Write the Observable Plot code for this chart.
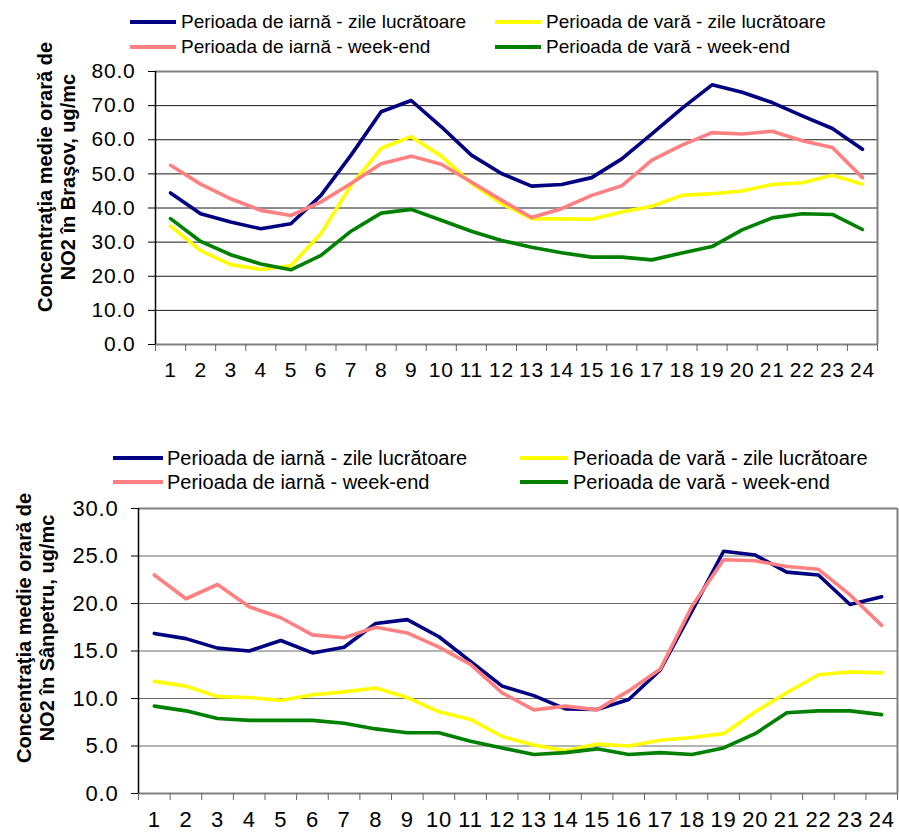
<!DOCTYPE html>
<html><head><meta charset="utf-8">
<script src="https://cdn.jsdelivr.net/npm/d3@7"></script>
<script src="https://cdn.jsdelivr.net/npm/@observablehq/plot@0.6"></script>
<style>
body{margin:0;background:#fff;font-family:"Liberation Sans",Arial,sans-serif;}
#wrap{position:relative;width:899px;height:832px;overflow:hidden;background:#fff;}
.chart{position:absolute;left:0;}
.leg{position:absolute;white-space:nowrap;color:#000;}
.sw{position:absolute;height:4px;}
.ytitle{position:absolute;width:360px;text-align:center;font-weight:bold;font-size:20px;line-height:23px;color:#000;transform:translate(-50%,-50%) rotate(-90deg);white-space:nowrap;}
</style></head><body><div id="wrap"></div>
<script>
// ---- data ----
const hours = [1,2,3,4,5,6,7,8,9,10,11,12,13,14,15,16,17,18,19,20,21,22,23,24];
const seriesNames = [
  "Perioada de iarnă - zile lucrătoare",
  "Perioada de vară - zile lucrătoare",
  "Perioada de iarnă - week-end",
  "Perioada de vară - week-end"
];
const seriesColors = ["#000080", "#FFFF00", "#FF8080", "#008000"];

// Braşov
const brasovWinterWork = [44.4,38.3,35.9,33.9,35.4,43.7,55.5,68.2,71.5,63.8,55.5,50.1,46.4,46.9,48.9,54.4,61.7,69.2,76.1,73.9,70.9,67.0,63.3,57.2];
const brasovSummerWork = [34.7,27.5,23.4,22.0,23.1,32.5,46.6,57.5,60.9,55.2,47.2,41.3,36.9,36.8,36.7,38.8,40.5,43.7,44.2,45.0,46.9,47.4,49.6,47.0];
const brasovWinterWeekend = [52.5,47.0,42.7,39.3,37.8,41.8,47.2,53.0,55.2,52.8,47.6,42.3,37.2,39.8,43.7,46.5,54.0,58.4,62.1,61.7,62.5,59.7,57.7,48.9];
const brasovSummerWeekend = [36.9,30.2,26.3,23.6,21.9,26.1,33.2,38.5,39.6,36.4,33.2,30.5,28.5,26.9,25.6,25.6,24.8,26.8,28.7,33.6,37.1,38.3,38.1,33.7];

// Sânpetru
const sanpetruWinterWork = [16.85,16.3,15.3,15.0,16.1,14.8,15.4,17.9,18.3,16.5,13.9,11.3,10.3,8.9,8.85,9.9,13.0,19.2,25.5,25.1,23.3,23.0,19.9,20.7];
const sanpetruSummerWork = [11.8,11.3,10.2,10.1,9.8,10.4,10.7,11.1,10.1,8.6,7.8,6.0,5.1,4.5,5.2,5.0,5.6,5.9,6.3,8.6,10.6,12.5,12.8,12.7];
const sanpetruWinterWeekend = [23.0,20.5,22.0,19.65,18.5,16.7,16.4,17.5,16.9,15.4,13.6,10.6,8.8,9.2,8.8,10.8,13.1,19.7,24.6,24.5,23.9,23.6,20.9,17.7];
const sanpetruSummerWeekend = [9.2,8.7,7.9,7.7,7.7,7.7,7.4,6.8,6.4,6.4,5.5,4.8,4.1,4.3,4.7,4.1,4.3,4.1,4.8,6.3,8.5,8.7,8.7,8.3];

const brasovTicks = [0,10,20,30,40,50,60,70,80];
const sanpetruTicks = [0,5,10,15,20,25,30];
const titleLine1 = "Concentraţia medie orară de";
const brasovTitle2 = "NO2 în Braşov, ug/mc";
const sanpetruTitle2 = "NO2 în Sânpetru, ug/mc";

// ---- helpers ----
function toLong(arrs) {
  const out = [];
  arrs.forEach((arr, i) => arr.forEach((v, j) => out.push({hour: hours[j], value: v, series: seriesNames[i]})));
  return out;
}
const boundaries = hours.map(h => h - 0.5).concat([hours[hours.length - 1] + 0.5]);

function makeChart({height, mt, mb, ml, mr, yTicks, gridColor, data, fs, ls, xpad}) {
  const ymax = yTicks[yTicks.length - 1];
  return Plot.plot({
    width: 899, height,
    marginTop: mt, marginBottom: mb, marginLeft: ml, marginRight: mr,
    style: {fontFamily: "Liberation Sans, Arial, sans-serif", fontSize: fs + "px", letterSpacing: ls + "px", background: "transparent", color: "#000", overflow: "visible"},
    x: {type: "linear", domain: [boundaries[0], boundaries[boundaries.length - 1]]},
    y: {domain: [0, ymax]},
    color: {domain: seriesNames, range: seriesColors},
    marks: [
      Plot.gridY({ticks: yTicks, stroke: gridColor, strokeOpacity: 1, strokeWidth: 1}),
      Plot.ruleY([ymax], {stroke: "#808080", strokeWidth: 2}),
      Plot.ruleX([boundaries[boundaries.length - 1]], {stroke: "#808080", strokeWidth: 2}),
      Plot.ruleY([0], {stroke: "#808080", strokeWidth: 2}),
      Plot.ruleX([boundaries[0]], {stroke: "#000", strokeWidth: 1.5}),
      Plot.axisY({ticks: yTicks, tickSize: 7, tickPadding: 13, tickFormat: d => d.toFixed(1), label: null, fontSize: fs, stroke: "#000"}),
      Plot.axisX({ticks: boundaries, tickSize: 7, tickFormat: () => "", label: null, stroke: "#666"}),
      Plot.axisX({ticks: hours, tickSize: 0, tickPadding: xpad, tickFormat: d => String(d), label: null, fontSize: fs}),
      Plot.line(data, {x: "hour", y: "value", z: "series", stroke: "series", strokeWidth: 3.6})
    ]
  });
}

const wrap = document.getElementById("wrap");

function place(node, top) {
  node.classList.add("chart");
  node.style.top = top + "px";
  wrap.appendChild(node);
}

function legend(items, fs) {
  items.forEach(it => {
    const sw = document.createElement("div");
    sw.className = "sw";
    sw.style.left = it.sx + "px";
    sw.style.width = it.sw + "px";
    sw.style.top = (it.y - 2) + "px";
    sw.style.background = seriesColors[it.i];
    wrap.appendChild(sw);
    const t = document.createElement("div");
    t.className = "leg";
    t.style.fontSize = fs + "px";
    t.style.lineHeight = fs + "px";
    t.style.left = it.tx + "px";
    t.style.top = (it.y - fs / 2 - 0.5) + "px";
    t.textContent = seriesNames[it.i];
    wrap.appendChild(t);
  });
}

function ytitle(cx, cy, l1, l2) {
  const d = document.createElement("div");
  d.className = "ytitle";
  d.style.left = cx + "px";
  d.style.top = cy + "px";
  const a = document.createElement("div"); a.textContent = l1;
  const b = document.createElement("div"); b.textContent = l2;
  d.appendChild(a); d.appendChild(b);
  wrap.appendChild(d);
}

// ---- top chart ----
place(makeChart({
  height: 400, mt: 71, mb: 56, ml: 155, mr: 22,
  yTicks: brasovTicks, gridColor: "#1a1a1a", fs: 21, ls: 0.8, xpad: 18,
  data: toLong([brasovWinterWork, brasovSummerWork, brasovWinterWeekend, brasovSummerWeekend])
}), 0);
legend([
  {i: 0, sx: 130, sw: 46, tx: 181, y: 22},
  {i: 1, sx: 495, sw: 46, tx: 546, y: 22},
  {i: 2, sx: 130, sw: 46, tx: 181, y: 47},
  {i: 3, sx: 495, sw: 46, tx: 546, y: 47}
], 19);
ytitle(56.5, 176.5, titleLine1, brasovTitle2);

// ---- bottom chart ----
place(makeChart({
  height: 402, mt: 78, mb: 39, ml: 138, mr: 2,
  yTicks: sanpetruTicks, gridColor: "#6a6a6a", fs: 22, ls: 0.8, xpad: 18,
  data: toLong([sanpetruWinterWork, sanpetruSummerWork, sanpetruWinterWeekend, sanpetruSummerWeekend])
}), 430);
legend([
  {i: 0, sx: 113, sw: 50, tx: 167, y: 458},
  {i: 1, sx: 520, sw: 48, tx: 573, y: 458},
  {i: 2, sx: 113, sw: 50, tx: 167, y: 482},
  {i: 3, sx: 520, sw: 48, tx: 573, y: 482}
], 20);
ytitle(36, 628, titleLine1, sanpetruTitle2);
</script>
</body></html>
